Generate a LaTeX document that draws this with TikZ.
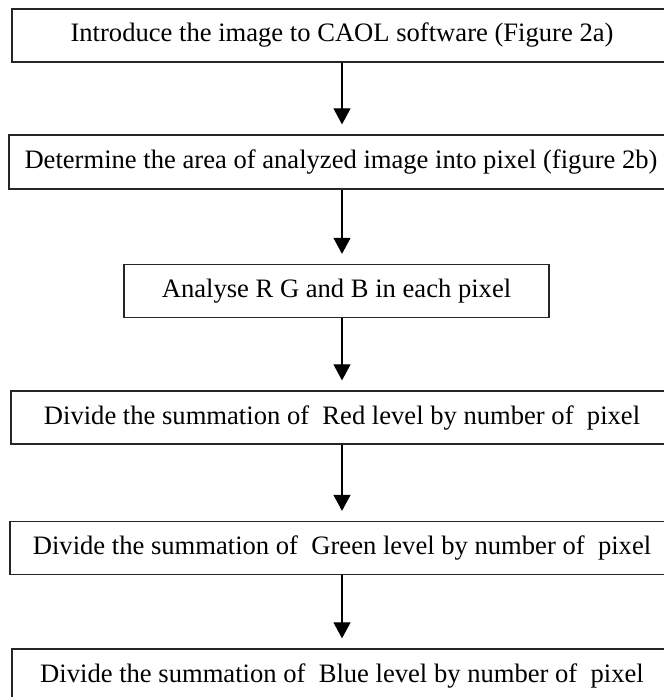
\documentclass[tikz,border=0pt]{standalone}
\usepackage{fontspec}
\setmainfont{Liberation Serif}
\usepackage{tikz}
\usetikzlibrary{arrows.meta,positioning}

\tikzset{
  stepbox/.style={draw=black!85,line width=1.3pt,minimum height=53pt,inner sep=0pt,
    font=\fontsize{26.6}{32}\selectfont},
  flow/.style={-{Triangle[width=17pt,length=16pt]},line width=1.1pt,shorten >=10pt}
}

\begin{document}
\begin{tikzpicture}[x=1pt,y=1pt]
\useasboundingbox (0,0) rectangle (664,-697);
% steps of the colour analysis
\node[stepbox,minimum width=660pt] (intro) at (342,-35.5) {Introduce the image to CAOL software (Figure 2a)};
\node[stepbox,minimum width=664pt,minimum height=54pt] (area) at (341,-162) {Determine the area of analyzed image into pixel (figure 2b)};
\node[stepbox,minimum width=425pt] (rgb) at (336.5,-291) {Analyse R G and B in each pixel};
\node[stepbox,minimum width=662pt] (red) at (342,-417.5) {Divide the summation of~ Red level by number of~ pixel};
\node[stepbox,minimum width=664pt] (green) at (342,-548) {Divide the summation of~ Green level by number of~ pixel};
\node[stepbox,minimum width=660pt] (blue) at (342,-675.5) {Divide the summation of~ Blue level by number of~ pixel};
% arrows between steps
\draw[flow] (intro.south) -- (intro.south |- area.north);
\draw[flow] (intro.south |- area.south) -- (intro.south |- rgb.north);
\draw[flow] (intro.south |- rgb.south) -- (intro.south |- red.north);
\draw[flow] (red.south) -- (green.north);
\draw[flow] (green.south) -- (blue.north);
\end{tikzpicture}
\end{document}
